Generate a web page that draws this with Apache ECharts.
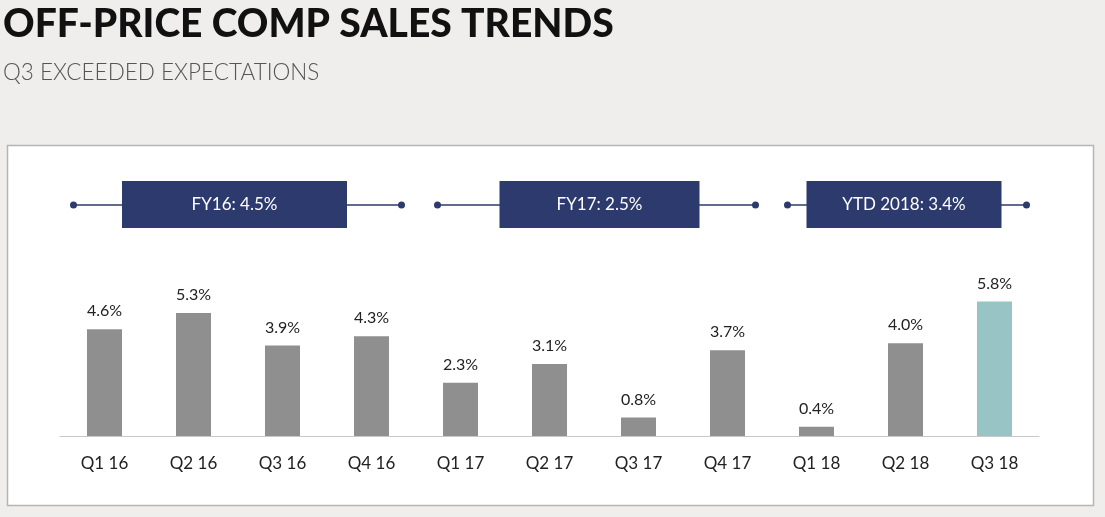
<!DOCTYPE html>
<html>
<head>
<meta charset="utf-8">
<script src="https://cdn.jsdelivr.net/npm/echarts@6/dist/echarts.min.js"></script>
<style>
html,body{margin:0;padding:0;background:#efeeec;}
#chart{width:1105px;height:517px;}
</style>
</head>
<body>
<div id="chart"></div>
<script>
// ---- data ----
const categories = ['Q1 16','Q2 16','Q3 16','Q4 16','Q1 17','Q2 17','Q3 17','Q4 17','Q1 18','Q2 18','Q3 18'];
const compSales = [4.6, 5.3, 3.9, 4.3, 2.3, 3.1, 0.8, 3.7, 0.4, 4.0, 5.8];
const highlightIndex = 10;
const periodLabels = ['FY16: 4.5%', 'FY17: 2.5%', 'YTD 2018: 3.4%'];
const periodStart = [0, 4, 8];
const periodEnd = [3, 7, 10];

// ---- styles ----
const navy = '#2c3a6d';
const boxWidths = [225, 200, 195];
const boxShift = [-3, 3, -3];
const leftInset = [31, 23, 29];
const rightInset = [30, 28, 32];
const bracketY = 205;

const chart = echarts.init(document.getElementById('chart'));
const barData = compSales.map((v, i) => ({
  value: v,
  itemStyle: { color: i === highlightIndex ? '#98c4c5' : '#8f8f8f' }
}));
const periodData = periodLabels.map((l, i) => [periodStart[i], periodEnd[i]]);

chart.setOption({
  backgroundColor: '#efeeec',
  animation: false,
  title: [
    { text: 'OFF-PRICE COMP SALES TRENDS', left: 3, top: 5, padding: 0,
      textStyle: { fontFamily: 'Lato', fontWeight: 900, fontSize: 39, color: '#111' } },
    { text: 'Q3 EXCEEDED EXPECTATIONS', left: 3, top: 61, padding: 0,
      textStyle: { fontFamily: 'Lato', fontWeight: 300, fontSize: 22.5, color: '#555' } }
  ],
  graphic: [{
    type: 'rect', z: -10, silent: true,
    shape: { x: 7.5, y: 145.5, width: 1086, height: 360 },
    style: { fill: '#ffffff', stroke: '#b5b5b5', lineWidth: 1.5 }
  }],
  grid: { left: 60, right: 1105 - 1039, top: 436 - 7 * 23.2, bottom: 517 - 436 },
  xAxis: {
    type: 'category', data: categories,
    axisLine: { lineStyle: { color: '#c8c8c8', width: 1 } },
    axisTick: { show: false },
    axisLabel: { fontFamily: 'Lato', fontSize: 17, color: '#222', margin: 19 }
  },
  yAxis: {
    type: 'value', min: 0, max: 7, show: false, splitLine: { show: false }
  },
  series: [
    {
      type: 'bar', data: barData, barWidth: 35,
      label: { show: true, position: 'top', distance: 10,
        formatter: p => p.value.toFixed(1) + '%',
        fontFamily: 'Lato', fontSize: 16, color: '#222' }
    },
    {
      type: 'custom', data: periodData, clip: false,
      encode: { x: [0, 1] },
      renderItem: function (params, api) {
        const i = params.dataIndex;
        const x0 = api.coord([api.value(0), 0])[0] - leftInset[i];
        const x1 = api.coord([api.value(1), 0])[0] + rightInset[i];
        const w = boxWidths[i];
        const cx = (x0 + x1) / 2 + boxShift[i];
        return {
          type: 'group',
          children: [
            { type: 'line', shape: { x1: x0, y1: bracketY, x2: x1, y2: bracketY },
              style: { stroke: navy, lineWidth: 1.5 } },
            { type: 'circle', shape: { cx: x0, cy: bracketY, r: 3.5 }, style: { fill: navy } },
            { type: 'circle', shape: { cx: x1, cy: bracketY, r: 3.5 }, style: { fill: navy } },
            { type: 'rect', shape: { x: cx - w / 2, y: bracketY - 24, width: w, height: 47 },
              style: { fill: navy } },
            { type: 'text', x: cx, y: bracketY,
              style: { text: periodLabels[i], fill: '#ffffff', fontFamily: 'Lato', fontSize: 17,
                align: 'center', verticalAlign: 'middle' } }
          ]
        };
      }
    }
  ]
});
</script>
</body>
</html>
